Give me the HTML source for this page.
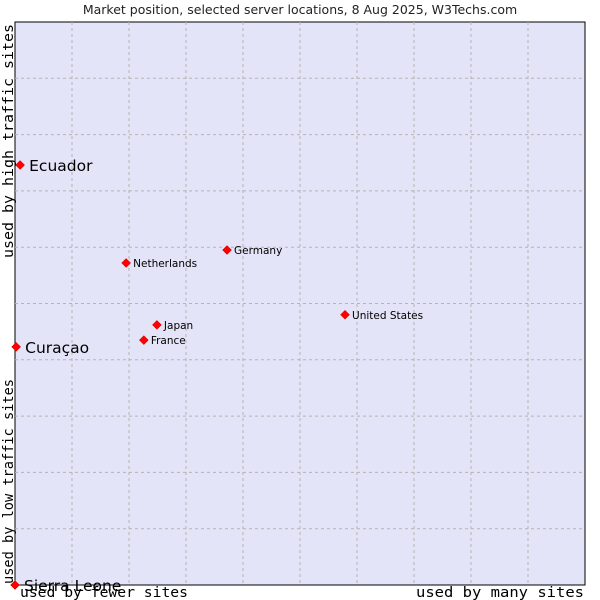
<!DOCTYPE html>
<html><head><meta charset="utf-8"><style>
body{margin:0;background:#fff;}
svg{display:block;}
</style></head><body>
<svg id="chart" width="600" height="600">
<text x="300" y="14" text-anchor="middle" font-family="DejaVu Sans, sans-serif" font-size="12.5" fill="#222">Market position, selected server locations, 8 Aug 2025, W3Techs.com</text>
<rect x="15" y="22" width="570" height="563" fill="#e3e4f8" stroke="#000" stroke-width="1"/>
<g id="grid"></g>
<g id="points"></g>
<text x="20" y="597" textLength="168" lengthAdjust="spacingAndGlyphs" font-family="DejaVu Sans Mono, Liberation Mono, monospace" font-size="14.5" fill="#000">used by fewer sites</text>
<text x="416" y="597" textLength="168" lengthAdjust="spacingAndGlyphs" font-family="DejaVu Sans Mono, Liberation Mono, monospace" font-size="14.5" fill="#000">used by many sites</text>
<text transform="translate(13,584) rotate(-90)" textLength="205" lengthAdjust="spacingAndGlyphs" font-family="DejaVu Sans Mono, Liberation Mono, monospace" font-size="14.5" fill="#000">used by low traffic sites</text>
<text transform="translate(13,258) rotate(-90)" textLength="234" lengthAdjust="spacingAndGlyphs" font-family="DejaVu Sans Mono, Liberation Mono, monospace" font-size="14.5" fill="#000">used by high traffic sites</text>
</svg>
<script>
const names=["Ecuador","Curaçao","Sierra Leone","Netherlands","Germany","Japan","France","United States"];
const xValues=[0.9,0.2,0,19.5,37.2,24.9,22.6,57.9];
const yValues=[74.6,42.3,0,57.2,59.5,46.2,43.5,48.0];
const highlighted=[true,true,true,false,false,false,false,false];
const gridTicks=[10,20,30,40,50,60,70,80,90];
const NS="http://www.w3.org/2000/svg";
const X0=15,X1=585,Y0=585,Y1=22;
const sx=v=>X0+(X1-X0)*v/100;
const sy=v=>Y0-(Y0-Y1)*v/100;
const grid=document.getElementById('grid');
gridTicks.forEach(t=>{
  const v=document.createElementNS(NS,'line');
  v.setAttribute('x1',sx(t));v.setAttribute('x2',sx(t));v.setAttribute('y1',Y1);v.setAttribute('y2',Y0);
  v.setAttribute('stroke','#b4b4b4');v.setAttribute('stroke-dasharray','3,3');
  
  
  grid.appendChild(v);
  const h=document.createElementNS(NS,'line');
  h.setAttribute('y1',sy(t));h.setAttribute('y2',sy(t));h.setAttribute('x1',X0);h.setAttribute('x2',X1);
  h.setAttribute('stroke','#b4b4b4');h.setAttribute('stroke-dasharray','3,3');
  
  
  grid.appendChild(h);
});
const pts=document.getElementById('points');
names.forEach((n,i)=>{
  const x=sx(xValues[i]),y=sy(yValues[i]);
  const d=document.createElementNS(NS,'path');
  d.setAttribute('d',`M${x-4.5},${y}L${x},${y-4.5}L${x+4.5},${y}L${x},${y+4.5}Z`);
  d.setAttribute('fill','#ff0000');d.setAttribute('stroke','#cc0000');d.setAttribute('stroke-width','0.5');
  
  
  pts.appendChild(d);
  const t=document.createElementNS(NS,'text');
  const big=highlighted[i];
  t.setAttribute('x',x+(big?9:7));t.setAttribute('y',y+(big?6:4));
  t.setAttribute('font-family','DejaVu Sans, sans-serif');
  t.setAttribute('font-size',big?'15.5':'10.5');
  t.setAttribute('fill','#000');
  t.textContent=n;
  
  
  pts.appendChild(t);
});
</script>
</body></html>
